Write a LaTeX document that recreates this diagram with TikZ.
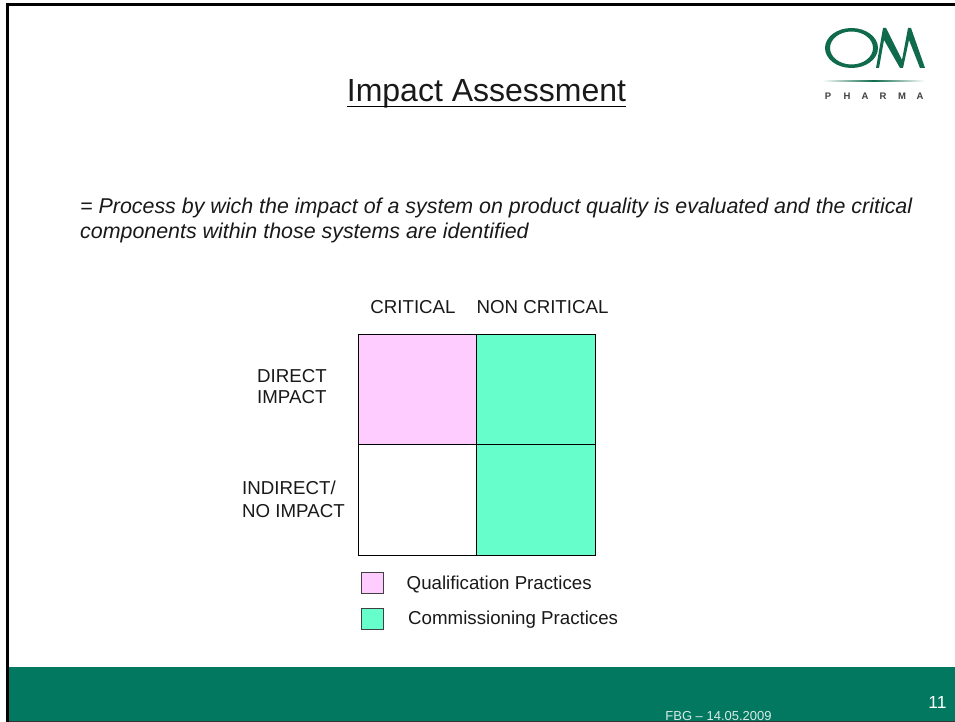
\documentclass[tikz,border=0pt]{standalone}
\usepackage{fontspec}
\setmainfont{Liberation Sans}
\definecolor{foot}{HTML}{027860}
\definecolor{pinkc}{HTML}{FFCCFF}
\definecolor{greenc}{HTML}{66FFCC}
\definecolor{logog}{HTML}{0F6B4C}
\tikzset{
  lbl/.style={inner sep=0pt,font=\fontsize{18.7}{22}\selectfont,text=black!90},
  cell/.style={draw=black,line width=1pt,minimum width=118.5pt,minimum height=110.5pt,inner sep=0pt,outer sep=0pt},
  keybox/.style={draw=black!75,line width=1pt,minimum width=22pt,minimum height=21pt,inner sep=0pt},
  para/.style={inner sep=0pt,font=\fontsize{21.4}{25}\selectfont\itshape,text=black!90},
  logoletter/.style={anchor=base,inner sep=0pt,font=\fontsize{9.5}{10}\selectfont\bfseries,text=black!75},
}
\begin{document}
\begin{tikzpicture}[x=1pt,y=-1pt]
\useasboundingbox (0,0) rectangle (955,722);
\fill[white] (0,0) rectangle (955,722);
% frame
\fill[black] (6,3) rectangle (955,6.5);
\fill[black] (6,3) rectangle (9.2,722);
% footer
\fill[foot] (6,667) rectangle (955,721);
\fill[black!80] (6,721) rectangle (955,722);
\fill[black] (6,667) rectangle (9.2,722);
\node[anchor=base,inner sep=0pt,font=\fontsize{13}{15}\selectfont,text=white!85!foot] (date) at (718.5,720.5) {FBG – 14.05.2009};
\node[anchor=base,inner sep=0pt,font=\fontsize{17.5}{20}\selectfont,text=white] (page) at (937.5,708) {11};
% title
\node[anchor=base,inner sep=0pt,font=\fontsize{32}{38}\selectfont,text=black!90] (title) at (486.5,102) {Impact Assessment};
\draw[black,line width=1.6pt] (347,106.5) -- (626,106.5);
% paragraph
\node[para,anchor=base west] (p1) at (80,213.5) {= Process by wich the impact of a system on product quality is evaluated and the critical};
\node[para,anchor=base west] (p2) at (80,238) {components within those systems are identified};
% grid
\node[cell,fill=pinkc,anchor=north west] (a) at (358,334) {};
\node[cell,fill=greenc,anchor=north west] (b) at (476.5,334) {};
\node[cell,fill=white,anchor=north west] (c) at (358,444.5) {};
\node[cell,fill=greenc,anchor=north west] (d) at (476.5,444.5) {};
% headings
\node[lbl,anchor=base] (h1) at (413,313) {CRITICAL};
\node[lbl,anchor=base] (h2) at (542.5,313) {NON CRITICAL};
\node[lbl,anchor=base west] (r1a) at (257,382) {DIRECT};
\node[lbl,anchor=base west] (r1b) at (257,403) {IMPACT};
\node[lbl,anchor=base west] (r2a) at (242,494) {INDIRECT/};
\node[lbl,anchor=base west] (r2b) at (242,517) {NO IMPACT};
% legend
\node[keybox,fill=pinkc,anchor=north west] (k1) at (361,572) {};
\node[keybox,fill=greenc,anchor=north west] (k2) at (361,608) {};
\node[lbl,anchor=base west] (l1) at (406.5,589) {Qualification Practices};
\node[lbl,anchor=base west] (l2) at (408,624) {Commissioning Practices};
% logo
\fill[logog,even odd rule] (851.5,48) ellipse (26.5pt and 20pt) (851.5,48) ellipse (21.5pt and 16.5pt);
\fill[logog] (876,68) -- (883,28) -- (886,28) -- (902,60) -- (908,28) -- (911,28) -- (925,68) -- (920,68) -- (909,40) -- (903,68) -- (900,68) -- (884,40) -- (879,68) -- cycle;
\shade[left color=white,right color=white,middle color=logog] (822,80.2) rectangle (925,81.8);
\node[logoletter] at (828,100) {P};
\node[logoletter] at (847,100) {H};
\node[logoletter] at (865,100) {A};
\node[logoletter] at (883,100) {R};
\node[logoletter] at (902,100) {M};
\node[logoletter] at (920,100) {A};
\end{tikzpicture}
\end{document}
